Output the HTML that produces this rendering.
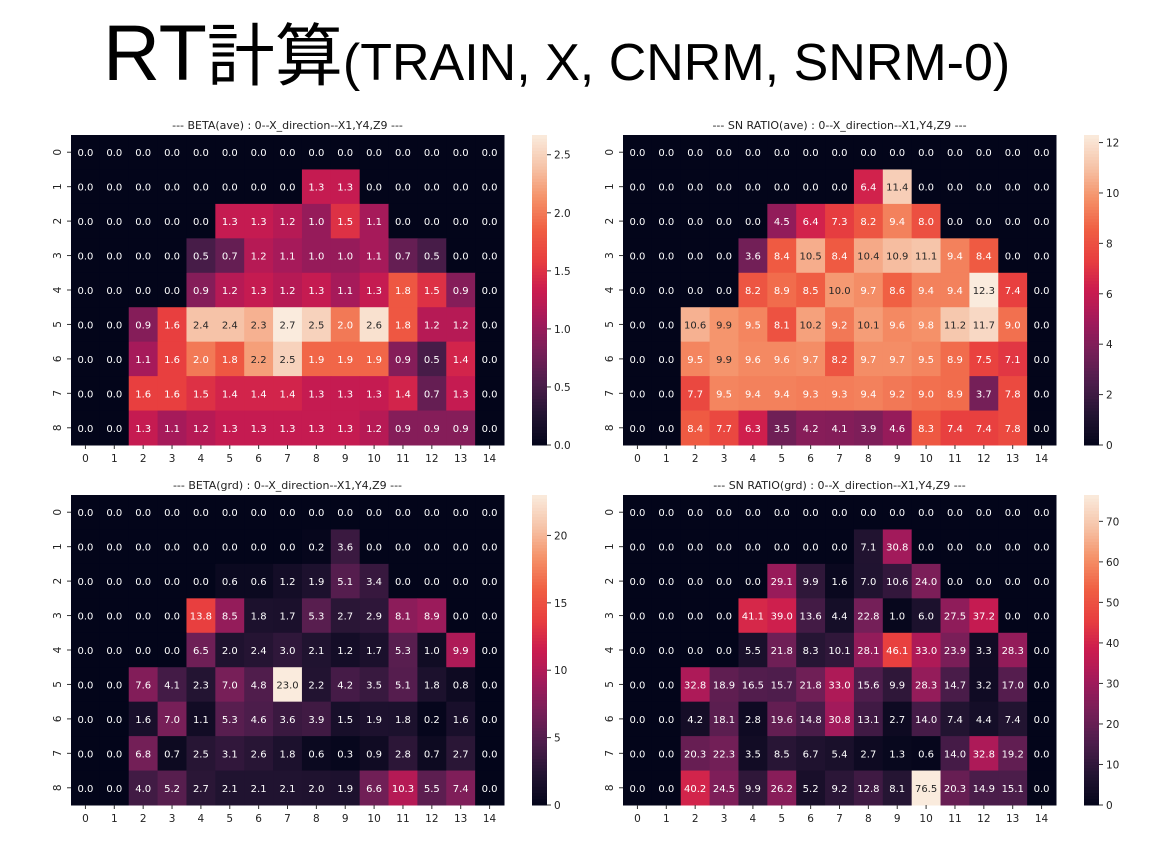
<!DOCTYPE html>
<html><head><meta charset="utf-8"><style>
body{margin:0;background:#fff;width:1153px;height:855px;overflow:hidden}
svg{display:block}
</style></head><body>
<svg id="chart" width="1153" height="855" xmlns="http://www.w3.org/2000/svg">
<text x="103" y="80" font-family="Liberation Sans, Noto Sans CJK JP, sans-serif" font-size="79" fill="#000">RT<tspan font-size="68">計算</tspan><tspan font-size="52">(TRAIN, X, CNRM, SNRM-0)</tspan></text>
</svg>
<script>
const rowLabels = ["0","1","2","3","4","5","6","7","8"];
const colLabels = ["0","1","2","3","4","5","6","7","8","9","10","11","12","13","14"];
const betaAve = [
[0,0,0,0,0,0,0,0,0,0,0,0,0,0,0],
[0,0,0,0,0,0,0,0,1.3,1.3,0,0,0,0,0],
[0,0,0,0,0,1.3,1.3,1.2,1.0,1.5,1.1,0,0,0,0],
[0,0,0,0,0.5,0.7,1.2,1.1,1.0,1.0,1.1,0.7,0.5,0,0],
[0,0,0,0,0.9,1.2,1.3,1.2,1.3,1.1,1.3,1.8,1.5,0.9,0],
[0,0,0.9,1.6,2.4,2.4,2.3,2.67,2.5,2.0,2.6,1.8,1.2,1.2,0],
[0,0,1.1,1.6,2.0,1.8,2.2,2.5,1.9,1.9,1.9,0.9,0.5,1.4,0],
[0,0,1.6,1.6,1.5,1.4,1.4,1.4,1.3,1.3,1.3,1.4,0.7,1.3,0],
[0,0,1.3,1.1,1.2,1.3,1.3,1.3,1.3,1.3,1.2,0.9,0.9,0.9,0]];
const snAve = [
[0,0,0,0,0,0,0,0,0,0,0,0,0,0,0],
[0,0,0,0,0,0,0,0,6.4,11.4,0,0,0,0,0],
[0,0,0,0,0,4.5,6.4,7.3,8.2,9.4,8.0,0,0,0,0],
[0,0,0,0,3.6,8.4,10.5,8.4,10.4,10.9,11.1,9.4,8.4,0,0],
[0,0,0,0,8.2,8.9,8.5,10.0,9.7,8.6,9.4,9.4,12.3,7.4,0],
[0,0,10.6,9.9,9.5,8.1,10.2,9.2,10.1,9.6,9.8,11.2,11.7,9.0,0],
[0,0,9.5,9.9,9.6,9.6,9.7,8.2,9.7,9.7,9.5,8.9,7.5,7.1,0],
[0,0,7.7,9.5,9.4,9.4,9.3,9.3,9.4,9.2,9.0,8.9,3.7,7.8,0],
[0,0,8.4,7.7,6.3,3.5,4.2,4.1,3.9,4.6,8.3,7.4,7.4,7.8,0]];
const betaGrd = [
[0,0,0,0,0,0,0,0,0,0,0,0,0,0,0],
[0,0,0,0,0,0,0,0,0.2,3.6,0,0,0,0,0],
[0,0,0,0,0,0.6,0.6,1.2,1.9,5.1,3.4,0,0,0,0],
[0,0,0,0,13.8,8.5,1.8,1.7,5.3,2.7,2.9,8.1,8.9,0,0],
[0,0,0,0,6.5,2.0,2.4,3.0,2.1,1.2,1.7,5.3,1.0,9.9,0],
[0,0,7.6,4.1,2.3,7.0,4.8,23.0,2.2,4.2,3.5,5.1,1.8,0.8,0],
[0,0,1.6,7.0,1.1,5.3,4.6,3.6,3.9,1.5,1.9,1.8,0.2,1.6,0],
[0,0,6.8,0.7,2.5,3.1,2.6,1.8,0.6,0.3,0.9,2.8,0.7,2.7,0],
[0,0,4.0,5.2,2.7,2.1,2.1,2.1,2.0,1.9,6.6,10.3,5.5,7.4,0]];
const snGrd = [
[0,0,0,0,0,0,0,0,0,0,0,0,0,0,0],
[0,0,0,0,0,0,0,0,7.1,30.8,0,0,0,0,0],
[0,0,0,0,0,29.1,9.9,1.6,7.0,10.6,24.0,0,0,0,0],
[0,0,0,0,41.1,39.0,13.6,4.4,22.8,1.0,6.0,27.5,37.2,0,0],
[0,0,0,0,5.5,21.8,8.3,10.1,28.1,46.1,33.0,23.9,3.3,28.3,0],
[0,0,32.8,18.9,16.5,15.7,21.8,33.0,15.6,9.9,28.3,14.7,3.2,17.0,0],
[0,0,4.2,18.1,2.8,19.6,14.8,30.8,13.1,2.7,14.0,7.4,4.4,7.4,0],
[0,0,20.3,22.3,3.5,8.5,6.7,5.4,2.7,1.3,0.6,14.0,32.8,19.2,0],
[0,0,40.2,24.5,9.9,26.2,5.2,9.2,12.8,8.1,76.5,20.3,14.9,15.1,0]];
const ticksBetaAve = [0,0.5,1.0,1.5,2.0,2.5];
const ticksSnAve = [0,2,4,6,8,10,12];
const ticksBetaGrd = [0,5,10,15,20];
const ticksSnGrd = [0,10,20,30,40,50,60,70];
const titles = ["--- BETA(ave) : 0--X_direction--X1,Y4,Z9 ---","--- SN RATIO(ave) : 0--X_direction--X1,Y4,Z9 ---","--- BETA(grd) : 0--X_direction--X1,Y4,Z9 ---","--- SN RATIO(grd) : 0--X_direction--X1,Y4,Z9 ---"];

const stops=[[0,[3,5,26]],[0.1,[35,20,50]],[0.2,[76,29,75]],[0.3,[117,31,88]],[0.4,[161,26,91]],[0.5,[203,27,79]],[0.6,[232,63,63]],[0.7,[240,96,67]],[0.8,[245,147,106]],[0.9,[246,196,169]],[1,[250,235,221]]];
function cmap(t){t=Math.max(0,Math.min(1,t));for(let i=1;i<stops.length;i++){if(t<=stops[i][0]){const a=stops[i-1],b=stops[i];const f=(t-a[0])/(b[0]-a[0]);const c=a[1].map((v,k)=>Math.round(v+(b[1][k]-v)*f));return c;}}return stops[stops.length-1][1];}
function lum(c){const l=c.map(v=>{v/=255;return v<=0.03928?v/12.92:Math.pow((v+0.055)/1.055,2.4)});return 0.2126*l[0]+0.7152*l[1]+0.0722*l[2];}
const NS="http://www.w3.org/2000/svg";
const svg=document.getElementById('chart');
function el(t,a,p){const e=document.createElementNS(NS,t);for(const k in a)e.setAttribute(k,a[k]);(p||svg).appendChild(e);return e;}
const F="DejaVu Sans, Liberation Sans, sans-serif";
function heat(data,ticks,x0,y0,title,key){
  const W=433,H=310,cw=W/15,ch=H/9;
  let vmax=0;data.forEach(r=>r.forEach(v=>{if(v>vmax)vmax=v;}));
  const g=el('g',{});
  
  
  const xs=c=>x0+c*cw, ys=r=>y0+r*ch;
  const t=el('text',{x:x0+W/2,y:y0-6,'text-anchor':'middle','font-family':F,'font-size':'11',fill:'#222'},g);
  t.textContent=title;
  
  
  data.forEach((row,r)=>row.forEach((v,c)=>{
    const col=cmap(v/vmax);
    const rc=el('rect',{x:xs(c),y:ys(r),width:cw+0.5,height:ch+0.5,fill:'rgb('+col.join(',')+')'},g);
    
    
    const tx=el('text',{x:xs(c)+cw/2,y:ys(r)+ch/2+4,'text-anchor':'middle','font-family':F,'font-size':'10',fill:lum(col)>0.408?'#262626':'#fff'},g);
    tx.textContent=v.toFixed(1);
    
    
  }));
  rowLabels.forEach((l,r)=>{
    const yy=ys(r)+ch/2;
    el('line',{x1:x0-4,x2:x0,y1:yy,y2:yy,stroke:'#333'},g);
    const tx=el('text',{x:x0-9,y:yy,'text-anchor':'middle','font-family':F,'font-size':'10.5',fill:'#222',transform:'rotate(-90 '+(x0-9)+' '+yy+')',dy:'-0.1em'},g);
    tx.textContent=l;
    
    
  });
  colLabels.forEach((l,c)=>{
    const xx=xs(c)+cw/2;
    el('line',{x1:xx,x2:xx,y1:y0+H,y2:y0+H+4,stroke:'#333'},g);
    const tx=el('text',{x:xx,y:y0+H+17,'text-anchor':'middle','font-family':F,'font-size':'10.5',fill:'#222'},g);
    tx.textContent=l;
    
    
  });
  const cx=x0+W+28,cwid=15;
  for(let i=0;i<100;i++){
    const r=el('rect',{x:cx,y:y0+H-(i+1)*H/100,width:cwid,height:H/100+0.5,fill:'rgb('+cmap((i+0.5)/100).join(',')+')'},g);
    
    
  }
  ticks.forEach(tv=>{
    const yy=y0+H-tv/vmax*H;
    el('line',{x1:cx+cwid,x2:cx+cwid+4,y1:yy,y2:yy,stroke:'#333'},g);
    const tx=el('text',{x:cx+cwid+7,y:yy+4,'font-family':F,'font-size':'10.5',fill:'#222'},g);
    tx.textContent=(ticks[1]<1)?tv.toFixed(1):String(tv);
    
    
  });
}
heat(betaAve,ticksBetaAve,71,135,titles[0],'beta-ave');
heat(snAve,ticksSnAve,623,135,titles[1],'sn-ave');
heat(betaGrd,ticksBetaGrd,71,495,titles[2],'beta-grd');
heat(snGrd,ticksSnGrd,623,495,titles[3],'sn-grd');
</script>
</body></html>
